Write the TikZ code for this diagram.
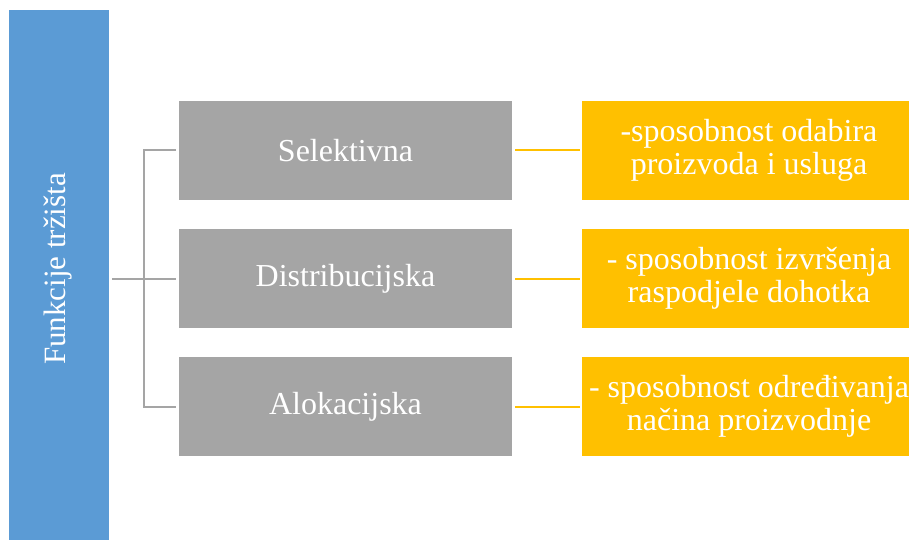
\documentclass[tikz,border=0pt]{standalone}
\usepackage{fontspec}
\setmainfont{Liberation Serif}
\definecolor{bluebox}{HTML}{5B9BD5}
\definecolor{graybox}{HTML}{A5A5A5}
\definecolor{yelbox}{HTML}{FFC000}
\begin{document}
\begin{tikzpicture}[x=1pt,y=-1pt,
  fbox/.style={rectangle, inner sep=0pt, outer sep=0pt, text=white,
    font=\fontsize{32}{33}\selectfont, align=center},
  grayfn/.style={fbox, fill=graybox, minimum width=333pt, minimum height=99pt},
  yelfn/.style={fbox, fill=yelbox, minimum width=334pt, minimum height=99pt},
  gline/.style={draw=graybox, line width=2pt},
  yline/.style={draw=yelbox, line width=2pt}]
\useasboundingbox (0,0) rectangle (909,540);
\clip (0,0) rectangle (909,540);
\fill[white] (0,0) rectangle (909,540);
\node[fbox, fill=bluebox, minimum width=100pt, minimum height=535pt] (blue) at (59,277.5) {};
\node[fbox, rotate=90, font=\fontsize{31}{33}\selectfont] (lbl) at (58,269) {Funkcije tržišta};
\node[grayfn] (g1) at (345.5,150.5) {Selektivna};
\node[grayfn] (g2) at (345.5,278.5) {Distribucijska};
\node[grayfn] (g3) at (345.5,406.5) {Alokacijska};
\node[yelfn] (y1) at (749,150.5) {-sposobnost odabira\\proizvoda i usluga};
\node[yelfn] (y2) at (749,278.5) {- sposobnost izvršenja\\raspodjele dohotka};
\node[yelfn] (y3) at (749,406.5) {- sposobnost određivanja\\načina proizvodnje};
\draw[gline] ([xshift=3pt]blue.east |- g2.west) -- ([xshift=-3pt]g2.west);
\draw[gline] ([xshift=-3pt]g1.west) -- ++(-32.5,0) |- ([xshift=-3pt]g3.west);
\draw[yline] ([xshift=3pt]g1.east) -- ([xshift=-2pt]y1.west);
\draw[yline] ([xshift=3pt]g2.east) -- ([xshift=-2pt]y2.west);
\draw[yline] ([xshift=3pt]g3.east) -- ([xshift=-2pt]y3.west);
\end{tikzpicture}
\end{document}
